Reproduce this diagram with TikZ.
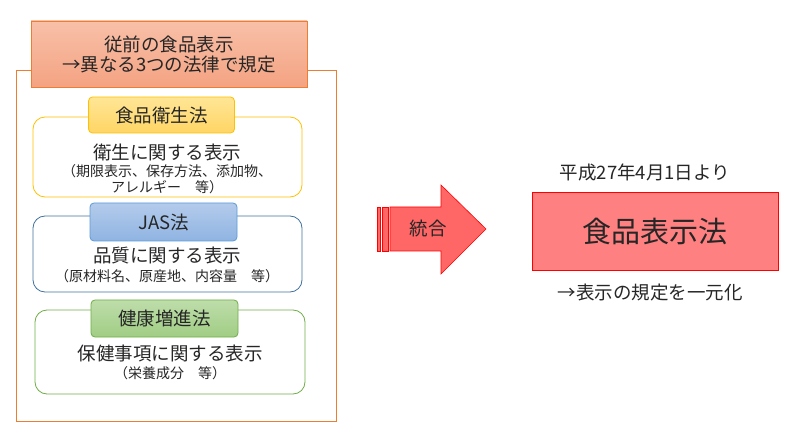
\documentclass[tikz,border=0pt]{standalone}
\usepackage{fontspec}
\setmainfont{Noto Sans CJK JP}
\definecolor{orng}{HTML}{ED7D31}
\definecolor{gold}{HTML}{FFC000}
\definecolor{blu}{HTML}{41719C}
\definecolor{blu2}{HTML}{5B9BD5}
\definecolor{grn}{HTML}{70AD47}
\definecolor{txt}{HTML}{262626}
\definecolor{redf}{HTML}{FF8080}
\definecolor{arrf}{HTML}{FF6666}
\begin{document}
\begin{tikzpicture}[x=1pt,y=-1pt,
  big/.style={font=\fontsize{18.5}{20}\selectfont,text=txt,inner sep=0pt,align=center},
  small/.style={font=\fontsize{14}{16}\selectfont,text=txt,inner sep=0pt,align=center},
  lawbox/.style={rounded corners=12pt,line width=0.8pt,fill=white,inner sep=0pt},
  lawlabel/.style={rounded corners=4pt,line width=0.8pt,inner sep=0pt,font=\fontsize{18.5}{20}\selectfont,text=txt}]
\useasboundingbox (0,0) rectangle (795,438);
% outer frame
\node[draw=orng,line width=0.8pt,minimum width=320pt,minimum height=351pt,inner sep=0pt] (frame) at (176,245.5) {};
% title
\node[draw=orng,line width=0.8pt,top color={rgb,255:red,248;green,192;blue,168},bottom color={rgb,255:red,244;green,163;blue,130},minimum width=276pt,minimum height=66pt,inner sep=0pt,big] (title) at (169,54) {従前の食品表示\\→異なる3つの法律で規定};
% yellow
\node[lawbox,draw=gold,minimum width=269pt,minimum height=80pt] (ybox) at (167.5,157) {};
\node[lawlabel,draw=gold,top color={rgb,255:red,255;green,230;blue,150},bottom color={rgb,255:red,255;green,213;blue,100},minimum width=146pt,minimum height=36pt] (ylab) at (161.5,115) {食品衛生法};
\node[big] (yt1) at (167,152) {衛生に関する表示};
\node[small] (yt2) at (167,179) {（期限表示、保存方法、添加物、\\アレルギー　等）};
% blue
\node[lawbox,draw=blu,minimum width=269pt,minimum height=76pt] (bbox) at (167.5,254) {};
\node[lawlabel,draw=blu2,top color={rgb,255:red,180;green,203;blue,235},bottom color={rgb,255:red,143;green,180;blue,226},minimum width=147pt,minimum height=38pt] (blab) at (163.5,222) {JAS法};
\node[big] (bt1) at (167,255) {品質に関する表示};
\node[small] (bt2) at (167,276) {（原材料名、原産地、内容量　等）};
% green
\node[lawbox,draw=grn,minimum width=270pt,minimum height=84pt] (gbox) at (170,352) {};
\node[lawlabel,draw=grn,top color={rgb,255:red,190;green,221;blue,170},bottom color={rgb,255:red,160;green,205;blue,132},minimum width=147pt,minimum height=37pt] (glab) at (164.5,318.5) {健康増進法};
\node[big] (gt1) at (170,353) {保健事項に関する表示};
\node[small] (gt2) at (170,373) {（栄養成分　等）};
% arrow
\draw[red,fill=arrf,line width=0.6pt] (377,207) rectangle (380,251);
\draw[red,fill=arrf,line width=0.6pt] (382,207) rectangle (388,251);
\draw[red,fill=arrf,line width=0.6pt,line join=miter] (390,207) -- (441,207) -- (441,185) -- (486,229) -- (441,274) -- (441,251) -- (390,251) -- cycle;
\node[big] (merge) at (428,229) {統合};
% result
\node[big] (date) at (645,172) {平成27年4月1日より};
\node[draw=red,fill=redf,line width=0.8pt,minimum width=246pt,minimum height=78pt,inner sep=0pt,font=\fontsize{29}{32}\selectfont,text=txt] (law) at (655,231) {食品表示法};
\node[big] (unify) at (650,293) {→表示の規定を一元化};
\end{tikzpicture}
\end{document}
